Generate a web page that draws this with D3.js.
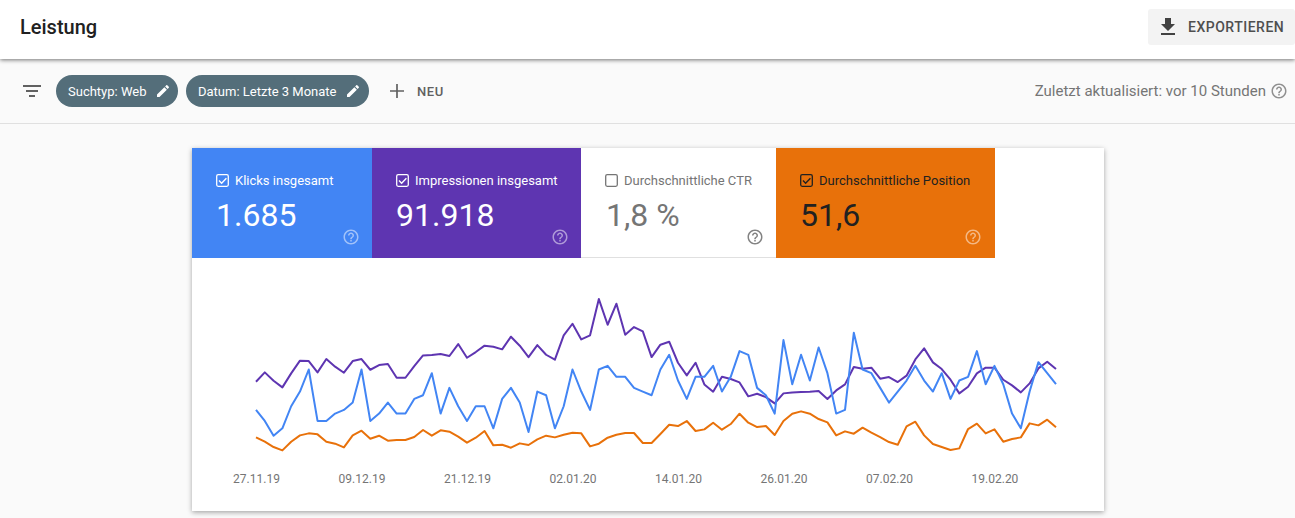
<!DOCTYPE html>
<html>
<head>
<meta charset="utf-8">
<style>
html, body { margin:0; padding:0; background:#fafafa; overflow:hidden; }
svg { display:block; font-family:Roboto, sans-serif; }
.axis text { font-size:12px; fill:#757575; font-family:Roboto, sans-serif; }
</style>
<script src="https://cdnjs.cloudflare.com/ajax/libs/d3/7.8.5/d3.min.js"></script>
</head>
<body>
<div id="chart"></div>
<script>
// daily values (27.11.19 - 26.02.20)
var klicks = [13,10,6,8,14,18,24,10,10,12,13,15,24,10,12,15,12,12,16,17,23,12,19,14,10,14,14,8,16,19,15,7,18,17,8,14,24,18,13,24,25,22,22,19,18,17,24,28,21,16,22,22,25,18,22,29,28,19,17,12,32,20,28,21,30,23,12,13,34,24,23,19,15,18,21,25,21,18,23,16,21,22,29,20,25,20,12,8,18,26,23,20];
var impressionen = [846,950,857,783,939,1080,1076,950,1098,1013,946,1076,1098,979,1031,1043,890,890,1020,1139,1143,1154,1132,1265,1113,1176,1247,1235,1206,1347,1247,1120,1254,1146,1091,1362,1491,1317,1362,1766,1480,1714,1369,1454,1406,1120,1258,1291,1057,916,1057,816,735,902,876,838,683,712,675,605,716,727,731,735,742,653,749,816,1009,991,1002,879,898,842,913,1094,1217,1061,987,868,716,790,939,1002,1002,868,805,727,827,994,1068,987];
var position = [52.3,53.6,55.2,56.2,53.6,51.7,51.1,51.4,53.6,54.2,55.3,51.7,50.3,52.7,51.8,53.3,53.1,53.1,52.2,50.1,51.8,50.2,50.6,52.1,53.9,52.4,50.4,54.7,54.5,55.4,54.1,54.6,52.9,51.8,52.3,51.5,50.9,51.1,55.0,54.2,52.4,51.5,51.0,51.0,54.0,54.0,51.3,48.5,48.9,47.4,50.4,49.9,47.9,50.0,48.3,45.2,47.9,49.2,48.9,51.6,47.4,45.2,44.5,45.2,46.8,47.8,51.7,50.5,51.2,49.4,50.9,52.2,53.7,54.5,49.0,47.6,51.7,54.3,55.2,56.1,55.6,49.8,48.2,51.1,49.9,53.6,52.8,52.3,48.1,48.7,47.0,49.3];
var tickDates = ["2019-11-27","2019-12-09","2019-12-21","2020-01-02","2020-01-14","2020-01-26","2020-02-07","2020-02-19"];
var tileTitles = ["Klicks insgesamt","Impressionen insgesamt","Durchschnittliche CTR","Durchschnittliche Position"];
var tileValues = ["1.685","91.918","1,8 %","51,6"];

var iconEdit = "M3 17.25V21h3.75L17.81 9.94l-3.75-3.75L3 17.25zM20.71 7.04c.39-.39.39-1.02 0-1.41l-2.34-2.34c-.39-.39-1.02-.39-1.41 0l-1.83 1.83 3.75 3.75 1.83-1.83z";
var iconDownload = "M19 9h-4V3H9v6H5l7 7 7-7zM5 18v2h14v-2H5z";
var iconHelp = "M11 18h2v-2h-2v2zm1-16C6.48 2 2 6.48 2 12s4.48 10 10 10 10-4.48 10-10S17.52 2 12 2zm0 18c-4.41 0-8-3.59-8-8s3.59-8 8-8 8 3.59 8 8-3.59 8-8 8zm0-14c-2.21 0-4 1.79-4 4h2c0-1.1.9-2 2-2s2 .9 2 2c0 2-3 1.75-3 5h2c0-2.25 3-2.5 3-5 0-2.21-1.79-4-4-4z";

var svg = d3.select("#chart").append("svg").attr("width",1295).attr("height",518);
var defs = svg.append("defs");
var shadow = defs.append("filter").attr("id","shadow").attr("x","-5%").attr("y","-5%").attr("width","110%").attr("height","110%");
shadow.append("feDropShadow").attr("dx",0).attr("dy",1.5).attr("stdDeviation",2.5).attr("flood-color","#000").attr("flood-opacity",0.35);
var headShadow = defs.append("filter").attr("id","headShadow").attr("x","-5%").attr("y","-20%").attr("width","110%").attr("height","140%");
headShadow.append("feDropShadow").attr("dx",0).attr("dy",1).attr("stdDeviation",2).attr("flood-color","#000").attr("flood-opacity",0.55);

function icon(path, x, y, size, color, opacity) {
  svg.append("path").attr("d",path)
    .attr("transform","translate("+x+","+y+") scale("+(size/24)+")")
    .attr("fill",color).attr("opacity",opacity == null ? 1 : opacity);
}
function label(txt, x, y, size, color, weight, anchor) {
  return svg.append("text").text(txt).attr("x",x).attr("y",y)
    .attr("font-size",size).attr("fill",color)
    .attr("font-weight",weight || 400).attr("text-anchor",anchor || "start");
}

// header
svg.append("rect").attr("width",1295).attr("height",59).attr("fill","#fff").attr("filter","url(#headShadow)");
label("Leistung",20,34,20,"#212121",500);
svg.append("rect").attr("x",1148).attr("y",9).attr("width",147).attr("height",36).attr("rx",3).attr("fill","#f3f3f3");
icon(iconDownload,1156,15,24,"#424242");
label("EXPORTIEREN",1188,32,14,"#4f4f4f",500).attr("letter-spacing",0.5);

// filter bar
svg.append("rect").attr("y",123).attr("width",1295).attr("height",1).attr("fill","#e0e0e0");
[[18,85],[12,90],[6,95]].forEach(function(b){
  svg.append("rect").attr("x",32-b[0]/2).attr("y",b[1]).attr("width",b[0]).attr("height",2).attr("fill","#616161");
});

var chips = [["Suchtyp: Web",56,122,68,155],["Datum: Letzte 3 Monate",186,183,198,345]];
chips.forEach(function(c){
  svg.append("rect").attr("x",c[1]).attr("y",75).attr("width",c[2]).attr("height",32).attr("rx",16).attr("fill","#546e7a");
  label(c[0],c[3],96,13,"#fff");
  icon(iconEdit,c[4],83,16,"#fff");
});
svg.append("path").attr("d","M397 84v14M390 91h14").attr("stroke","#616161").attr("stroke-width",1.7).attr("fill","none");
label("NEU",417,96,13,"#616161",500).attr("letter-spacing",0.6);
label("Zuletzt aktualisiert: vor 10 Stunden",1266,96,15,"#757575",400,"end");
icon(iconHelp,1270,82,18,"#757575",0.8);

// card + tiles
svg.append("rect").attr("x",192).attr("y",148).attr("width",912).attr("height",363).attr("fill","#fff").attr("filter","url(#shadow)");
var tileX = [192,372,581,776];
var tileW = [180,209,195,219];
var tileBg = ["#4285f4","#5e35b1","#fff","#e8710a"];
var tileFg = ["#fff","#fff","#757575","#212121"];
var helpX = [342,551,746,964];
svg.append("rect").attr("x",581).attr("y",257).attr("width",195).attr("height",1).attr("fill","#e0e0e0");
tileTitles.forEach(function(t,i){
  svg.append("rect").attr("x",tileX[i]).attr("y",148).attr("width",tileW[i]).attr("height",i==2?109:110).attr("fill",tileBg[i]);
  var bx = tileX[i]+24;
  svg.append("rect").attr("x",bx+0.7).attr("y",174.7).attr("width",11.6).attr("height",11.6).attr("rx",1.5)
    .attr("fill","none").attr("stroke",tileFg[i]).attr("stroke-width",1.3);
  if (i != 2) {
    svg.append("path").attr("d","M"+(bx+3)+" 180.6l2.6 2.6l4.8-5").attr("fill","none").attr("stroke",tileFg[i]).attr("stroke-width",1.4);
  }
  label(t,bx+19,185,13,tileFg[i]);
  label(tileValues[i],bx+(i==2?1:0),226,32,tileFg[i]);
  icon(iconHelp,helpX[i],228,18,i==2?"#757575":"#fff",i==2?0.9:0.5);
});

// chart
var parse = d3.utcParse("%Y-%m-%d");
var start = parse("2019-11-27");
var days = klicks.map(function(d,i){ return d3.utcDay.offset(start,i); });
var x = d3.scaleUtc().domain([start,days[days.length-1]]).range([256,1056]);
var yKlicks = d3.scaleLinear().domain([0,44]).range([457.7,296]);
var yImpr = d3.scaleLinear().domain([0,1800]).range([457.7,296]);
var yPos = d3.scaleLinear().domain([58.4,9.9]).range([457.7,296]); // position axis is reversed

function drawLine(values, y, color) {
  var line = d3.line().x(function(d,i){return x(days[i]);}).y(function(d){return y(d);});
  svg.append("path").datum(values).attr("d",line).attr("fill","none")
    .attr("stroke",color).attr("stroke-width",2).attr("stroke-linejoin","round");
}
drawLine(impressionen,yImpr,"#5e35b1");
drawLine(klicks,yKlicks,"#4285f4");
drawLine(position,yPos,"#e8710a");

var axis = d3.axisBottom(x).tickValues(tickDates.map(parse)).tickFormat(d3.utcFormat("%d.%m.%y")).tickSize(0).tickPadding(0);
var ax = svg.append("g").attr("class","axis").attr("transform","translate(0,474)").call(axis);
ax.select(".domain").remove();
</script>
</body>
</html>
